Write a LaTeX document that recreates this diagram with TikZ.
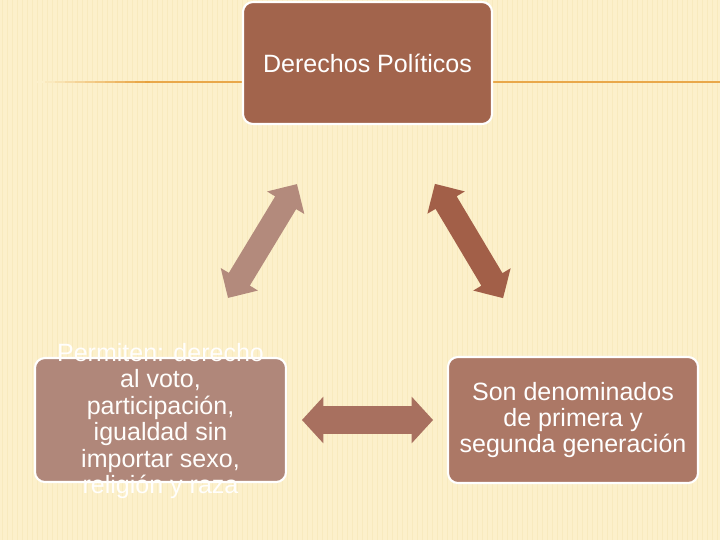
\documentclass[tikz,border=0pt]{standalone}
\usepackage{fontspec}
\setmainfont{Liberation Sans}
\usetikzlibrary{shapes.arrows}
\definecolor{fondo}{HTML}{FCF0CB}
\definecolor{raya}{HTML}{F3DFA8}
\definecolor{linea}{HTML}{E9A84A}
\definecolor{cafe}{HTML}{A2644C}
\definecolor{rosa}{HTML}{B0877A}
\definecolor{cafeclaro}{HTML}{AC7866}
\definecolor{flechaizq}{HTML}{B38A7C}
\definecolor{flechader}{HTML}{A25F48}
\definecolor{flechamed}{HTML}{A8705F}
\tikzset{
  caja/.style={draw=white, line width=1.5pt, rounded corners=0.25cm, inner sep=0pt},
  texto/.style={text=white, align=center, font=\fontsize{17.8}{18.8}\selectfont},
  flecha/.style={double arrow, inner sep=0.3cm, minimum width=1.075cm,
    double arrow head extend=0.2375cm, double arrow tip angle=90, minimum height=3.325cm}
}
\begin{document}
\begin{tikzpicture}[x=0.025cm, y=-0.025cm]
            \fill[fondo] (0,0) rectangle (720,540);
            \useasboundingbox (0,0) rectangle (720,540);
            \foreach \x in {2,7,...,720}
                \draw[raya, line width=0.6pt, opacity=0.35] (\x,0) -- (\x,540);
            \foreach \i in {0,...,11}
                \draw[linea!\i0!fondo, line width=2pt] (35+\i*10,82) -- (45.5+\i*10,82);
            \draw[linea, line width=2pt] (150,82) -- (243,82);
            \draw[linea, line width=2pt] (492,82) -- (720,82);
            \node[caja, fill=cafe, minimum width=6.225cm, minimum height=3.05cm] (politicos) at (367.5,63) {};
            \node[texto] (politicosTxt) at (politicos) {Derechos Políticos};
            \node[caja, fill=rosa, minimum width=6.275cm, minimum height=3.1cm] (permiten) at (160.5,420) {};
            \node[texto, text=white!95!fondo] (permitenTxt) at (160.5,421) {Permiten: derecho\\al voto,\\participación,\\igualdad sin\\importar sexo,\\religión y raza};
            \node[caja, fill=cafeclaro, minimum width=6.25cm, minimum height=3.15cm] (generacion) at (573,420) {};
            \node[texto] (generacionTxt) at (generacion) {Son denominados\\de primera y\\segunda generación};
            \node[flecha, fill=flechaizq, rotate=58.8] (izq) at (262.5,241) {};
            \node[flecha, fill=flechader, rotate=-59.2] (der) at (469,241) {};
            \node[flecha, fill=flechamed, inner sep=0.3375cm, minimum width=1.15cm,
                double arrow head extend=0.2375cm, double arrow tip angle=95, minimum height=3.275cm] (medio) at (367.5,420) {};
        \end{tikzpicture}
\end{document}
